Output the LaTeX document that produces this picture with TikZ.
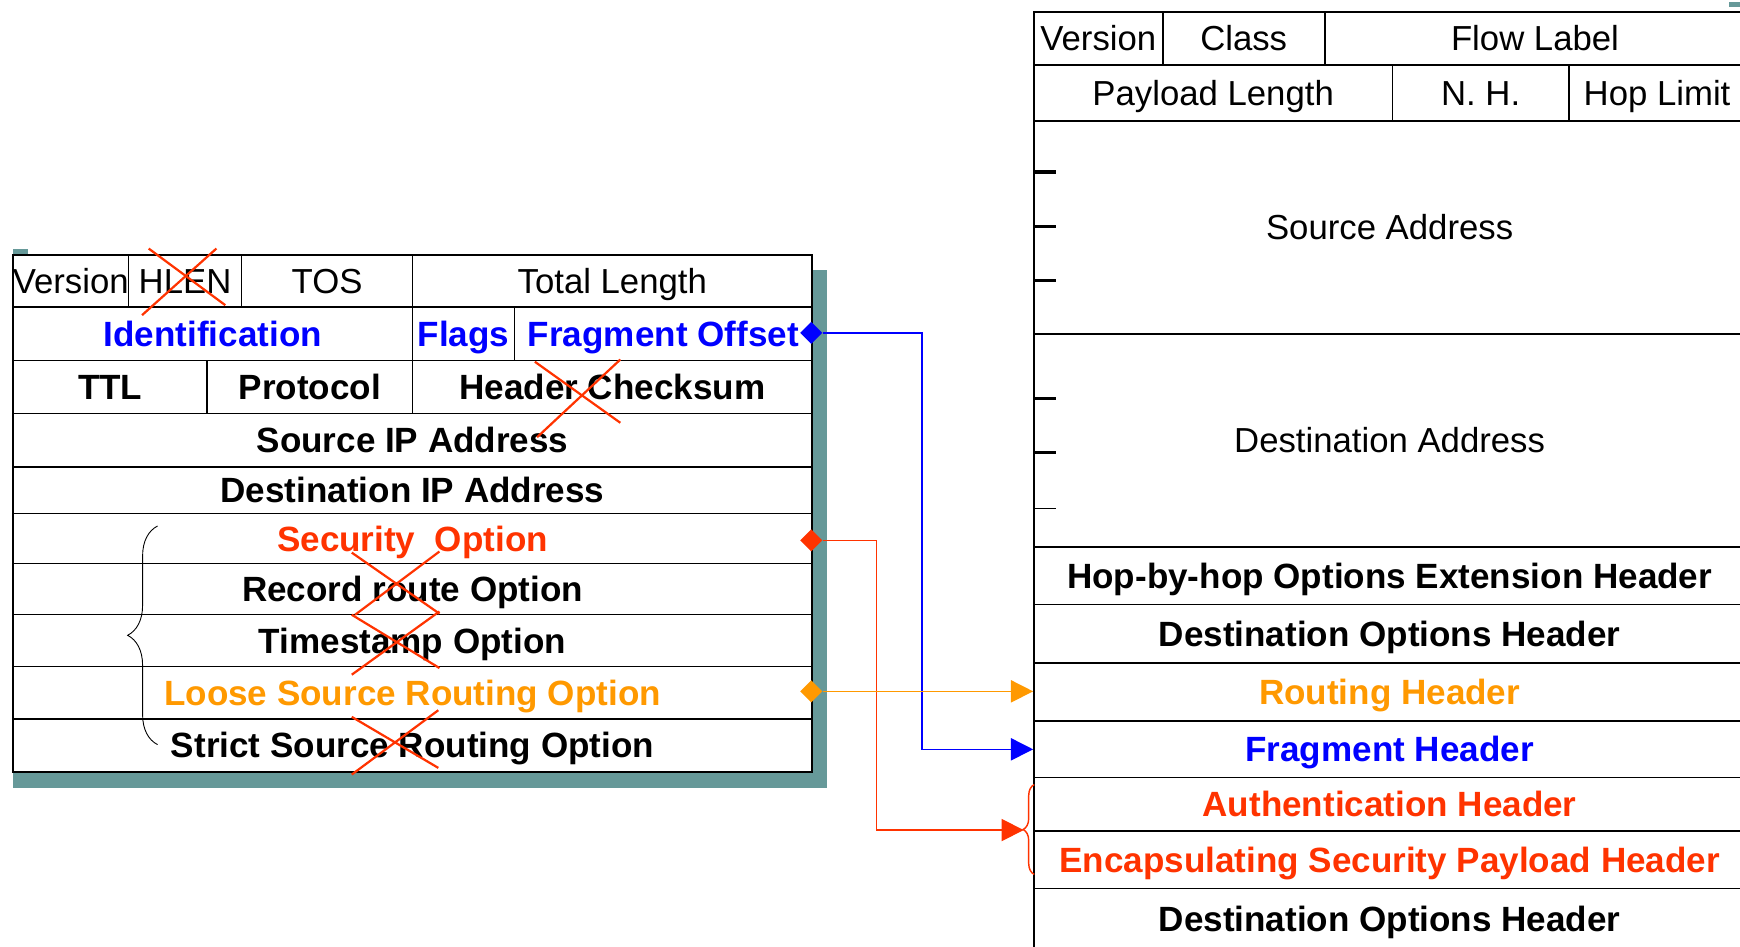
\documentclass[tikz,border=0pt]{standalone}
\usepackage{fontspec}
\setmainfont{Liberation Sans}
\usetikzlibrary{calc,positioning,arrows.meta,shapes,decorations.pathreplacing}

\definecolor{hdrblue}{RGB}{0,0,255}
\definecolor{hdrred}{RGB}{255,51,0}
\definecolor{hdrorange}{RGB}{255,153,0}
\definecolor{hdrshade}{RGB}{102,153,153}

\begin{document}
\begin{tikzpicture}[x=1pt, y=-1pt,
  fplain/.style={font=\fontsize{31.3}{31.3}\selectfont, text height=22.4pt, text depth=0pt},
  fbold/.style={font=\bfseries\fontsize{31.6}{31.6}\selectfont, text height=22.6pt, text depth=0pt},
  fblue/.style={fbold, text=hdrblue},
  fred/.style={fbold, text=hdrred},
  forange/.style={fbold, text=hdrorange},
  link/.style={line width=1.3pt, -{Triangle[length=20pt, width=20pt]}},
  xmark/.style={hdrred, line width=2pt}]
\tikzstyle{cell}=[draw, line width=1.5pt, fill=white, inner sep=0pt, anchor=north west]
\tikzstyle{tip}=[diamond, inner sep=0pt, minimum size=20pt]
\useasboundingbox (0,0) rectangle (1568,853);
\clip (0,0) rectangle (1568,853);

% IPv4 header
\fill[hdrshade] (12,243) rectangle (745,710);
\fill[hdrshade] (12,224) rectangle (25,229);
\foreach \xa/\ya/\xb/\yb/\nm/\st/\txt in {
  11/229/115/276/ver/fplain/\makebox[0pt]{Version}, 115/229/217/276/hlen/fplain/HLEN,
  217/229/371/276/tos/fplain/TOS, 371/229/731/276/tlen/fplain/Total Length,
  11/276/371/324/ident/fblue/Identification, 371/276/463/324/flags/fblue/Flags,
  463/276/731/324/foff/fblue/Fragment Offset,
  11/324/186/372/ttl/fbold/TTL, 186/324/371/372/proto/fbold/Protocol,
  371/324/731/372/hcs/fbold/Header Checksum,
  11/372/731/420/sip/fbold/Source IP Address,
  11/420/731/462/dip/fbold/Destination IP Address,
  11/462/731/507/sec/fred/Security\ \ Option,
  11/507/731/553/rr/fbold/Record route Option,
  11/553/731/600/ts/fbold/Timestamp Option,
  11/600/731/647/lsr/forange/Loose Source Routing Option,
  11/647/731/695/ssr/fbold/Strict Source Routing Option}
  \node[cell, \st, minimum width={(\xb-\xa)*1pt}, minimum height={(\yb-\ya)*1pt}] (\nm) at (\xa,\ya) {\txt};

\draw[xmark] (134,224) -- (203,275) (195,224) -- (128,284);
\draw[xmark] (482,326) -- (559,381) (559,324) -- (484,394);
\draw[xmark] (317,498) -- (396,553) (396,497) -- (320,554);
\draw[xmark] (317,554) -- (396,602) (396,551) -- (317,608);
\draw[xmark] (317,646) -- (395,692) (395,640) -- (317,698);
\draw[line width=0.8pt, decorate, decoration={brace, amplitude=27pt}] (142,671) -- (142,474);

% IPv6 header
\fill[hdrshade] (1558,2) rectangle (1568,6);
\foreach \xa/\ya/\xb/\yb/\nm/\st/\txt in {
  931/10/1047/58/vsix/fplain/Version, 1047/10/1193/58/cls/fplain/Class,
  1193/10/1572/58/flow/fplain/Flow Label,
  931/58/1254/108/plen/fplain/Payload Length, 1254/58/1413/108/nh/fplain/N. H.,
  1413/58/1572/108/hop/fplain/Hop Limit,
  931/108/1572/300/src/fplain/Source Address,
  931/300/1572/492/dst/fplain/Destination Address,
  931/492/1572/544/hbh/fbold/Hop-by-hop Options Extension Header,
  931/544/1572/597/dopt/fbold/Destination Options Header,
  931/597/1572/649/rout/forange/Routing Header,
  931/649/1572/700/frag/fblue/Fragment Header,
  931/700/1572/748/ah/fred/Authentication Header,
  931/748/1572/800/esp/fred/Encapsulating Security Payload Header,
  931/800/1572/854/dlast/fbold/Destination Options Header}
  \node[cell, \st, minimum width={(\xb-\xa)*1pt}, minimum height={(\yb-\ya)*1pt}] (\nm) at (\xa,\ya) {\txt};

\foreach \y in {155,204,253,359,408} \draw[line width=2.8pt] (931,\y) -- (952,\y);
\draw[line width=1.2pt] (931,458) -- (952,458);
\draw[hdrred, line width=1.3pt, decorate, decoration={brace, amplitude=10pt}] (932,788) -- (932,707);

% links
\node[tip, fill=hdrblue] (dfo) at (731,300) {};
\node[tip, fill=hdrred] (dsec) at (731,487) {};
\node[tip, fill=hdrorange] (dlsr) at (731,623) {};
\coordinate (fbend) at (831,500);
\coordinate (sbend) at (790,600);
\coordinate (ipsec) at (922.5,748);
\draw[link, hdrred] (dsec.east) -| (sbend) |- (ipsec);
\draw[link, hdrblue] (dfo.east) -| (fbend) |- (frag.west);
\draw[link, hdrorange] (dlsr.east) -- (dlsr.east -| rout.west);

\end{tikzpicture}
\end{document}
